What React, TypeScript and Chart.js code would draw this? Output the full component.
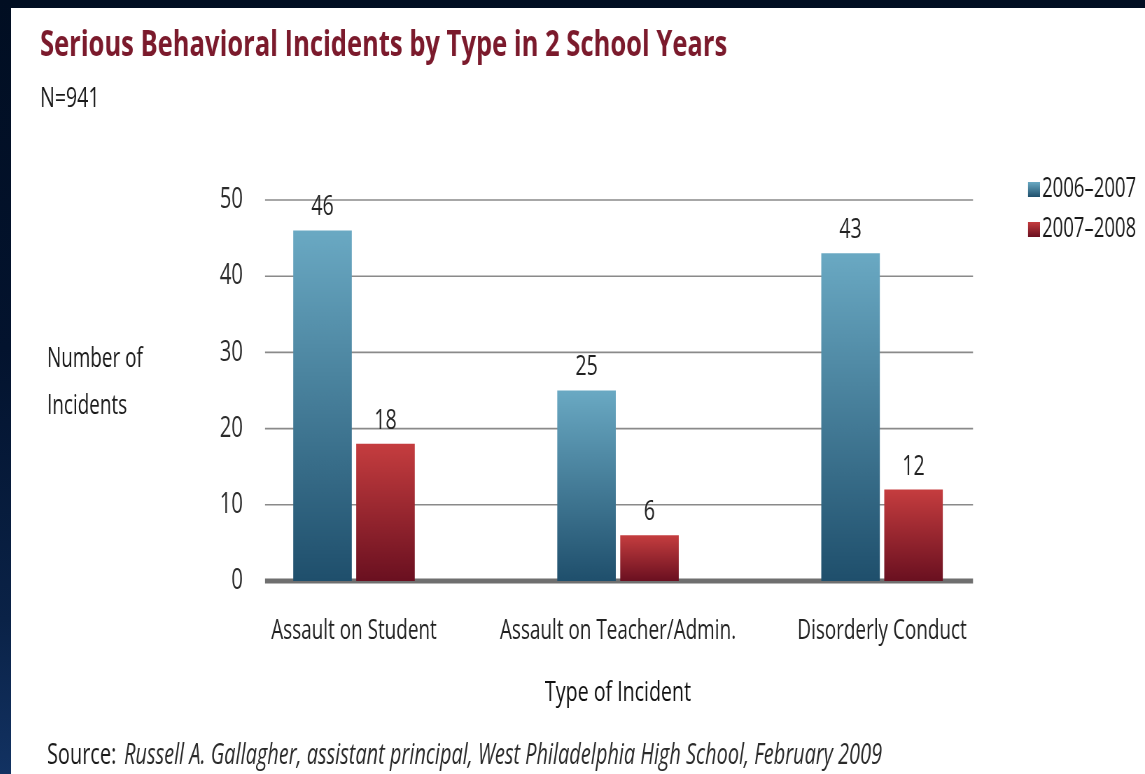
import React, { useEffect, useRef } from "react";
import { Chart, registerables } from "chart.js";

Chart.register(...registerables);

const CATEGORIES = ["Assault on Student", "Assault on Teacher/Admin.", "Disorderly Conduct"];
const SERIES_LABELS = ["2006–2007", "2007–2008"];
const VALUES_2006_2007 = [46, 25, 43];
const VALUES_2007_2008 = [18, 6, 12];
const Y_TICKS = [0, 10, 20, 30, 40, 50];

const TITLE = "Serious Behavioral Incidents by Type in 2 School Years";
const SUBTITLE = "N=941";
const Y_TITLE_LINES = ["Number of", "Incidents"];
const X_TITLE = "Type of Incident";
const SOURCE_LABEL = "Source:";
const SOURCE_TEXT = "Russell A. Gallagher, assistant principal, West Philadelphia High School, February 2009";

const SX = 0.7; // horizontal condensing of the whole drawing
const W = 1620; // 1134 / 0.7
const H = 766;
const FONT = "'Open Sans', 'Noto Sans', 'DejaVu Sans', sans-serif";

const BLUE_TOP = "#6aa9c3";
const BLUE_BOTTOM = "#1f4f6c";
const RED_TOP = "#c53d3f";
const RED_BOTTOM = "#6a1020";

function gradientFill(top: string, bottom: string) {
  return (ctx: any) => {
    const chart = ctx.chart;
    if (!chart.chartArea || ctx.type !== "data") return top;
    const y = chart.scales.y;
    const v = ctx.raw as number;
    const y0 = y.getPixelForValue(v);
    const y1 = y.getPixelForValue(0);
    const g = chart.ctx.createLinearGradient(0, y0, 0, y1);
    g.addColorStop(0, top);
    g.addColorStop(1, bottom);
    return g;
  };
}

const decorPlugin = {
  id: "decor",
  beforeDatasetsDraw(chart: any) {
    const { ctx, chartArea, scales } = chart;
    const x0 = chartArea.left + 61.5;
    const x1 = chartArea.right - 58.6;
    ctx.save();
    for (const v of Y_TICKS) {
      const y = scales.y.getPixelForValue(v);
      ctx.beginPath();
      if (v === 0) {
        ctx.lineWidth = 5;
        ctx.strokeStyle = "#6f6f6f";
      } else {
        ctx.lineWidth = 1.6;
        ctx.strokeStyle = "#8a8a8a";
      }
      ctx.moveTo(x0, y);
      ctx.lineTo(x1, y);
      ctx.stroke();
    }
    ctx.restore();
  },
  afterDatasetsDraw(chart: any) {
    const { ctx, chartArea } = chart;
    ctx.save();
    // data labels
    ctx.font = `400 28px ${FONT}`;
    ctx.fillStyle = "#222";
    ctx.textAlign = "center";
    ctx.textBaseline = "middle";
    chart.data.datasets.forEach((ds: any, di: number) => {
      const meta = chart.getDatasetMeta(di);
      meta.data.forEach((el: any, i: number) => {
        ctx.fillText(String(ds.data[i]), el.x, el.y - 23);
      });
    });
    // y-axis title (horizontal, two lines)
    ctx.textAlign = "left";
    ctx.textBaseline = "alphabetic";
    ctx.fillStyle = "#1a1a1a";
    ctx.font = `400 27px ${FONT}`;
    ctx.fillText(Y_TITLE_LINES[0], 51.4, 359);
    ctx.fillText(Y_TITLE_LINES[1], 51.4, 406);
    // legend
    const lx = chartArea.right + 20;
    const tops = [174, 214];
    const cols = [
      [BLUE_TOP, BLUE_BOTTOM],
      [RED_TOP, RED_BOTTOM],
    ];
    ctx.font = `400 26.5px ${FONT}`;
    chart.data.datasets.forEach((ds: any, di: number) => {
      const t = tops[di];
      const g = ctx.createLinearGradient(0, t, 0, t + 15);
      g.addColorStop(0, cols[di][0]);
      g.addColorStop(1, cols[di][1]);
      ctx.fillStyle = g;
      ctx.fillRect(lx, t, 17.1, 15);
      ctx.fillStyle = "#1a1a1a";
      ctx.fillText(ds.label, lx + 20, t + 15);
    });
    // source line
    ctx.font = `400 28.5px ${FONT}`;
    ctx.fillStyle = "#1a1a1a";
    ctx.fillText(SOURCE_LABEL, 51.4, 756);
    const w = ctx.measureText(SOURCE_LABEL).width;
    ctx.font = `italic 400 28.5px ${FONT}`;
    ctx.fillStyle = "#2a2a2a";
    ctx.fillText(SOURCE_TEXT, 51.4 + w + 11, 756);
    ctx.restore();
  },
};

export default function App() {
  const ref = useRef<HTMLCanvasElement | null>(null);

  useEffect(() => {
    if (!ref.current) return;
    const chart = new Chart(ref.current, {
      type: "bar",
      data: {
        labels: CATEGORIES,
        datasets: [
          {
            label: SERIES_LABELS[0],
            data: VALUES_2006_2007,
            backgroundColor: gradientFill(BLUE_TOP, BLUE_BOTTOM),
            borderWidth: 0,
            categoryPercentage: 0.477,
            barPercentage: 0.93,
          },
          {
            label: SERIES_LABELS[1],
            data: VALUES_2007_2008,
            backgroundColor: gradientFill(RED_TOP, RED_BOTTOM),
            borderWidth: 0,
            categoryPercentage: 0.477,
            barPercentage: 0.93,
          },
        ],
      },
      options: {
        responsive: false,
        animation: false,
        devicePixelRatio: 1,
        layout: { padding: { left: 41.4, right: 187.1, top: 0, bottom: 64.2 } },
        plugins: {
          legend: { display: false },
          tooltip: { enabled: false },
          title: {
            display: true,
            text: TITLE,
            align: "start",
            color: "#7b1a2c",
            font: { family: FONT, size: 36.5, weight: "bold" },
            padding: { top: 15.3, bottom: 0 },
          },
          subtitle: {
            display: true,
            text: SUBTITLE,
            align: "start",
            color: "#1a1a1a",
            font: { family: FONT, size: 28, weight: "normal" },
            padding: { top: 15.6, bottom: 83.7 },
          },
        },
        scales: {
          x: {
            grid: { display: false, drawTicks: false },
            border: { display: false },
            afterFit: (scale: any) => {
              scale.height = 128.8;
            },
            ticks: {
              color: "#222",
              font: { family: FONT, size: 27 },
              padding: 34,
              maxRotation: 0,
              autoSkip: false,
            },
            title: {
              display: true,
              text: X_TITLE,
              color: "#111",
              font: { family: FONT, size: 28 },
              padding: { top: 28.8, bottom: 0 },
            },
          },
          y: {
            min: 0,
            max: 50,
            grid: { display: false, drawTicks: false },
            border: { display: false },
            afterBuildTicks: (scale: any) => {
              scale.ticks = Y_TICKS.map((v) => ({ value: v }));
            },
            afterFit: (scale: any) => {
              scale.width = 260;
            },
            ticks: {
              color: "#2b2b2b",
              font: { family: FONT, size: 29 },
              mirror: true,
              crossAlign: "far",
              padding: -3.2,
            },
          },
        },
      },
      plugins: [decorPlugin],
    });
    return () => chart.destroy();
  }, []);

  return (
    <div
      style={{
        position: "fixed",
        left: 0,
        top: 0,
        width: 1145,
        height: 774,
        overflow: "hidden",
        background: "linear-gradient(180deg, #010e22 0%, #03132e 45%, #0a2247 80%, #123262 100%)",
      }}
    >
      <div
        style={{
          position: "absolute",
          left: 11,
          top: 8,
          width: 1134,
          height: 766,
          background: "#ffffff",
          overflow: "hidden",
        }}
      >
        <div style={{ width: W, height: H, transform: `scaleX(${SX})`, transformOrigin: "0 0" }}>
          <canvas ref={ref} width={W} height={H} style={{ display: "block" }} />
        </div>
      </div>
    </div>
  );
}
